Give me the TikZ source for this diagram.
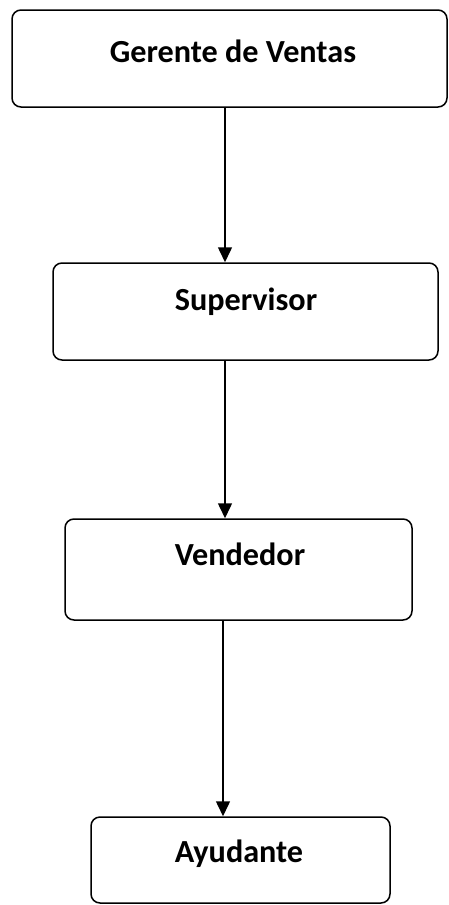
\documentclass[tikz,border=0pt]{standalone}
\usepackage{fontspec}
\setmainfont{Carlito}
\usetikzlibrary{arrows.meta}
\begin{document}
\begin{tikzpicture}[x=1pt,y=-1pt,
  box/.style={draw=black,line width=1.5pt,rounded corners=9pt,inner sep=0pt},
  lbl/.style={anchor=base,font=\fontsize{32.2}{37}\selectfont\bfseries,inner sep=0pt},
  conn/.style={line width=1.5pt,-{Triangle[length=15pt,width=14pt]}}]
\useasboundingbox (0,0) rectangle (448,905);
\node[box,minimum width=435pt,minimum height=97pt] (b1) at (229.5,58.5) {};
\node[box,minimum width=385pt,minimum height=97pt] (b2) at (245.5,311.5) {};
\node[box,minimum width=347pt,minimum height=101pt] (b3) at (238.5,569.5) {};
\node[box,minimum width=299pt,minimum height=86pt] (b4) at (240.5,860) {};
\node[lbl] (t1) at (233,62) {Gerente de Ventas};
\node[lbl] (t2) at (246,310) {Supervisor};
\node[lbl] (t3) at (240,565) {Vendedor};
\node[lbl] (t4) at (239,862) {Ayudante};
\coordinate (a1) at (225,0);
\coordinate (a3) at (223,0);
\draw[conn] (b1.south -| a1) -- (b2.north -| a1);
\draw[conn] (b2.south -| a1) -- (b3.north -| a1);
\draw[conn] (b3.south -| a3) -- (b4.north -| a3);
\end{tikzpicture}
\end{document}
